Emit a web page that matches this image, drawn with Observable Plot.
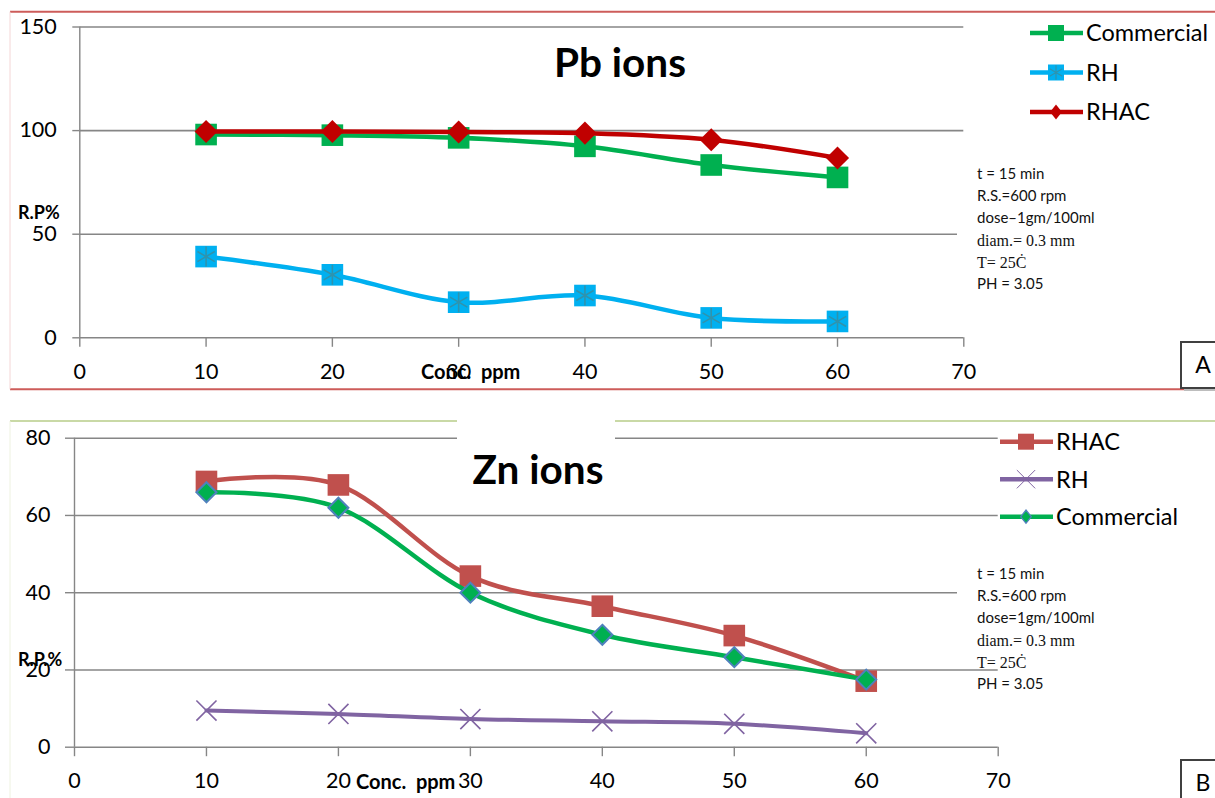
<!DOCTYPE html>
<html><head><meta charset="utf-8">
<script src="https://cdn.jsdelivr.net/npm/d3@7"></script>
<script src="https://cdn.jsdelivr.net/npm/@observablehq/plot@0.6"></script>
<style>
body{margin:0;background:#fff;}
#wrap{width:1215px;height:798px;position:relative;overflow:hidden;font-family:Lato,sans-serif;}
#wrap svg{display:block;}
</style></head><body><div id="wrap"></div>
<script>
// ---- data ----
const conc = [10, 20, 30, 40, 50, 60];
const xTicks = [0, 10, 20, 30, 40, 50, 60, 70];
const pbTicks = [0, 50, 100, 150];
const znTicks = [0, 20, 40, 60, 80];
const pbCommercial = [98.1, 97.8, 96.5, 92.4, 83.4, 77.4];
const pbRH = [39.2, 30.4, 17.2, 20.4, 9.6, 7.9];
const pbRHAC = [99.6, 99.6, 99.3, 98.8, 95.6, 86.8];
const znRHAC = [68.8, 67.9, 44.3, 36.5, 28.9, 17.1];
const znRH = [9.5, 8.6, 7.3, 6.7, 6.05, 3.6];
const znCommercial = [66.0, 62.0, 40.0, 29.1, 23.3, 17.5];
const pbTitle = "Pb ions";
const znTitle = "Zn ions";
const notesA = ["t = 15 min", "R.S.=600 rpm", "dose\u20131gm/100ml", "diam.= 0.3 mm", "T= 25\u010A", "PH = 3.05"];
const notesB = ["t = 15 min", "R.S.=600 rpm", "dose=1gm/100ml", "diam.= 0.3 mm", "T= 25\u010A", "PH = 3.05"];

const wrap = d3.select("#wrap");
const toRows = (vals) => conc.map((x, i) => ({x, y: vals[i]}));

function symbolMarks(rows, m) {
  const out = [];
  if (m.kind === "square") {
    out.push(Plot.dot(rows, {x: "x", y: "y", symbol: "square", r: 12.2, fill: m.color, stroke: "none"}));
    if (m.star) out.push(Plot.dot(rows, {x: "x", y: "y", symbol: "asterisk", r: 9.5, fill: "none", stroke: m.star, strokeWidth: 1.6}));
  } else if (m.kind === "diamond") {
    out.push(Plot.dot(rows, {x: "x", y: "y", symbol: "diamond2", r: m.r, fill: m.color, stroke: m.edge || "none", strokeWidth: m.edge ? 2 : 0}));
  } else if (m.kind === "times") {
    out.push(Plot.dot(rows, {x: "x", y: "y", symbol: "times", r: 9.2, fill: "none", stroke: m.color, strokeWidth: 1.6}));
  }
  return out;
}

function txt(g, x, y, s, opts = {}) {
  return g.append("text").attr("x", x).attr("y", y)
    .attr("text-anchor", opts.anchor || "start")
    .attr("font-family", opts.family || "Lato, sans-serif")
    .attr("font-weight", opts.weight || "normal")
    .attr("font-size", opts.size || 20)
    .attr("fill", opts.fill || "#000")
    .attr("dy", opts.dy || null)
    .style("white-space", "pre")
    .text(s);
}

function panel(cfg) {
  const marks = [
    Plot.gridY(cfg.yTicks, {stroke: "#868686", strokeOpacity: 1, strokeWidth: 1.6}),
    Plot.ruleX([0], {stroke: "#868686", strokeWidth: 1.4}),
    Plot.axisY(cfg.yTicks, {tickSize: cfg.yTickSize, tickPadding: cfg.yPad, stroke: "#868686", strokeOpacity: 1, strokeWidth: 1.4, label: null, fontSize: 21.5}),
    Plot.axisX(xTicks, {tickSize: 9.5, tickPadding: 16, stroke: "#868686", strokeOpacity: 1, strokeWidth: 1.4, label: null, fontSize: 21.5})
  ];
  for (const s of cfg.series) {
    const rows = toRows(s.values);
    marks.push(Plot.line(rows, {x: "x", y: "y", stroke: s.color, strokeWidth: s.width, curve: "cardinal"}));
    marks.push(...symbolMarks(rows, s));
  }
  const svg = Plot.plot({
    width: 1215, height: cfg.height,
    marginTop: cfg.mt, marginBottom: cfg.mb, marginLeft: cfg.ml, marginRight: cfg.mr,
    x: {domain: [0, 70]},
    y: {domain: [0, cfg.yMax]},
    style: {fontFamily: "Lato, sans-serif", fontSize: "21px", color: "#000", background: "transparent", overflow: "visible"},
    marks
  });
  wrap.node().appendChild(svg);
  const g = d3.select(svg);
  // frame borders
  const deco = g.insert("g", ":first-child");
  deco.append("line").attr("x1", 10).attr("x2", 1215).attr("y1", cfg.borderTop).attr("y2", cfg.borderTop).attr("stroke", cfg.borderColor).attr("stroke-width", 2);
  if (cfg.borderBottom != null) deco.append("line").attr("x1", 10).attr("x2", 1215).attr("y1", cfg.borderBottom).attr("y2", cfg.borderBottom).attr("stroke", cfg.borderColor).attr("stroke-width", 2);
  deco.append("line").attr("x1", 10).attr("x2", 10).attr("y1", cfg.borderTop).attr("y2", cfg.borderBottom ?? cfg.height).attr("stroke", cfg.sideColor).attr("stroke-width", 1);
  // white masks (text boxes overlapping grid)
  for (const r of cfg.masks) g.append("rect").attr("x", r[0]).attr("y", r[1]).attr("width", r[2]).attr("height", r[3]).attr("fill", "#fff");
  // title
  txt(g, cfg.titleX, cfg.titleY, cfg.title, {anchor: "middle", weight: "bold", size: 40.5});
  // axis labels
  txt(g, 18, cfg.yLabY, cfg.yLabel, {weight: "bold", size: 18});
  txt(g, cfg.xLabX, cfg.xLabY, "Conc.  ppm", {weight: "bold", size: 20});
  // legend
  cfg.series.forEach((s, i) => {
    const y = cfg.legY + i * cfg.legStep;
    const lg = g.append("g");
    lg.append("line").attr("x1", cfg.legX).attr("x2", cfg.legX + 53).attr("y1", y).attr("y2", y).attr("stroke", s.color).attr("stroke-width", 4.5);
    const cx = cfg.legX + 26;
    if (s.kind === "square") {
      lg.append("rect").attr("x", cx - 8).attr("y", y - 8).attr("width", 16).attr("height", 16).attr("fill", s.color);
      if (s.star) lg.append("path").attr("transform", `translate(${cx},${y})`).attr("d", d3.symbol(d3.symbolAsterisk, 150)()).attr("stroke", s.star).attr("stroke-width", 1.2).attr("fill", "none");
    } else if (s.kind === "diamond") {
      lg.append("path").attr("transform", `translate(${cx},${y}) scale(0.8,1)`).attr("d", d3.symbol(d3.symbolDiamond2, s.edge ? 110 : 140)()).attr("fill", s.color).attr("stroke", s.edge || "none").attr("stroke-width", s.edge ? 1.5 : 0);
    } else if (s.kind === "times") {
      lg.append("path").attr("transform", `translate(${cx},${y})`).attr("d", d3.symbol(d3.symbolTimes, 220)()).attr("stroke", s.color).attr("stroke-width", 1).attr("fill", "none");
    }
    txt(lg, cfg.legX + 56, y, s.name, {size: 23.5, dy: "0.36em"});
  });
  // notes
  cfg.notes.forEach((t, i) => {
    const serif = i === 3 || i === 4;
    txt(g, 977, cfg.noteY + i * 22, t, {dy: "0.35em", family: serif ? "'Liberation Serif', serif" : "Lato, sans-serif", size: serif ? 16 : 15, fill: "#111"});
  });
  // corner letter box
  const bx = g.append("g");
  bx.append("rect").attr("x", 1184).attr("y", cfg.boxY + 3).attr("width", 40).attr("height", 46).attr("fill", "#bdbdbd");
  bx.append("rect").attr("x", 1181).attr("y", cfg.boxY).attr("width", 40).attr("height", 46).attr("fill", "#fff").attr("stroke", "#404040").attr("stroke-width", 2);
  txt(bx, 1203, cfg.boxY + 31, cfg.letter, {anchor: "middle", size: 23});
}

panel({
  height: 400, mt: 26.5, mb: 62.7, ml: 79.3, mr: 251.7,
  yMax: 150, yTicks: pbTicks, yTickSize: 7, yPad: 16,
  series: [
    {name: "Commercial", values: pbCommercial, color: "#00B050", width: 4.5, kind: "square"},
    {name: "RH", values: pbRH, color: "#00B0F0", width: 4.5, kind: "square", star: "#2F93AD"},
    {name: "RHAC", values: pbRHAC, color: "#C00000", width: 4.5, kind: "diamond", r: 10.4}
  ],
  borderTop: 11.7, borderBottom: 389.3, borderColor: "#CD5C5A", sideColor: "#F4D6D6",
  masks: [[957, 160, 175, 140]],
  title: pbTitle, titleX: 620, titleY: 77,
  yLabel: "R.P%", yLabY: 219, xLabX: 421, xLabY: 379,
  legX: 1030, legY: 33, legStep: 39.5,
  notes: notesA, noteY: 174,
  boxY: 342, letter: "A"
});

panel({
  height: 398, mt: 37.7, mb: 51.3, ml: 74, mr: 217.3,
  yMax: 80, yTicks: znTicks, yTickSize: 9, yPad: 15,
  series: [
    {name: "RHAC", values: znRHAC, color: "#C0504D", width: 4.5, kind: "square"},
    {name: "RH", values: znRH, color: "#8064A2", width: 4, kind: "times"},
    {name: "Commercial", values: znCommercial, color: "#00B050", width: 4.5, kind: "diamond", r: 9, edge: "#4F81BD"}
  ],
  borderTop: 21, borderBottom: null, borderColor: "#C9D9A6", sideColor: "#EEF2E0",
  masks: [[457, 15, 158, 30], [957, 160, 175, 95]],
  title: znTitle, titleX: 538, titleY: 84,
  yLabel: "R.P.%", yLabY: 266, xLabX: 356, xLabY: 389,
  legX: 1000, legY: 41.7, legStep: 37.5,
  notes: notesB, noteY: 174,
  boxY: 360, letter: "B"
});
</script></body></html>
